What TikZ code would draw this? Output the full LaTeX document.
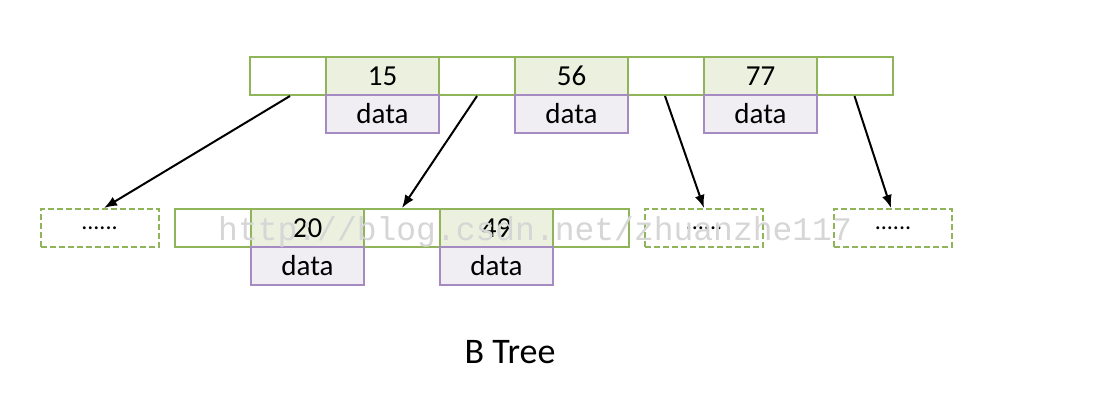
\documentclass[tikz,border=0pt]{standalone}
\usepackage{fontspec}
\setmainfont{Carlito}
\newfontfamily\markfont{Liberation Mono}
\usetikzlibrary{arrows.meta}

\definecolor{keygreen}{HTML}{8FB45A}
\definecolor{keyfill}{HTML}{EBF1DE}
\definecolor{datapurple}{HTML}{A58BC2}
\definecolor{datafill}{HTML}{F0EEF3}

\tikzset{
  ptrcell/.style={draw=keygreen, line width=2pt, fill=white, minimum width=76pt, minimum height=38pt, inner sep=0pt},
  keycell/.style={draw=keygreen, line width=2pt, fill=keyfill, minimum width=113pt, minimum height=38pt, inner sep=0pt, font=\fontsize{29}{29}\selectfont},
  datacell/.style={draw=datapurple, line width=2pt, fill=datafill, minimum width=113pt, minimum height=38pt, inner sep=0pt, font=\fontsize{29}{29}\selectfont},
  moreleaf/.style={draw=keygreen, line width=2pt, dashed, dash pattern=on 6pt off 3pt, minimum width=118pt, minimum height=38pt, inner sep=0pt, font=\fontsize{24}{24}\selectfont},
  child/.style={line width=2pt, -{Latex[length=13pt,width=10pt]}}
}

\begin{document}
\begin{tikzpicture}[x=1pt, y=-1pt]
  \useasboundingbox (0,0) rectangle (1116,416);

  % Root node
  \node[ptrcell] (p1) at (288,76) {};
  \node[keycell] (k15) at (382.5,76) {15};
  \node[ptrcell] (p2) at (477,76) {};
  \node[keycell] (k56) at (571.5,76) {56};
  \node[ptrcell] (p3) at (666,76) {};
  \node[keycell] (k77) at (760.5,76) {77};
  \node[ptrcell] (p4) at (854.5,76) {};
  \node[datacell] (d15) at (382.5,114) {data};
  \node[datacell] (d56) at (571.5,114) {data};
  \node[datacell] (d77) at (760.5,114) {data};

  % Second level
  \node[moreleaf] (m1) at (99.5,228) {......};
  \node[ptrcell] (q1) at (213,228) {};
  \node[keycell] (k20) at (307.5,228) {20};
  \node[ptrcell] (q2) at (402,228) {};
  \node[keycell] (k49) at (496.5,228) {49};
  \node[ptrcell] (q3) at (591,228) {};
  \node[datacell] (d20) at (307.5,266) {data};
  \node[datacell] (d49) at (496.5,266) {data};
  \node[moreleaf] (m2) at (704,228) {......};
  \node[moreleaf] (m3) at (893,228) {......};

  % Pointers
  \draw[child] ([xshift=2pt]p1.south) -- ([xshift=4.5pt]m1.north);
  \draw[child] (p2.south) -- (q2.north);
  \draw[child] ([xshift=-1pt]p3.south) -- (m2.north);
  \draw[child] (p4.south) -- ([xshift=-2pt]m3.north);

  % Watermark
  \node[text=black!16, font=\markfont\fontsize{33}{33}\selectfont, anchor=base west, inner sep=0pt] (mark) at (218,240) {http://blog.csdn.net/zhuanzhe117};

  % Caption
  \node[font=\fontsize{36}{36}\selectfont] (caption) at (510,352) {B Tree};
\end{tikzpicture}
\end{document}
